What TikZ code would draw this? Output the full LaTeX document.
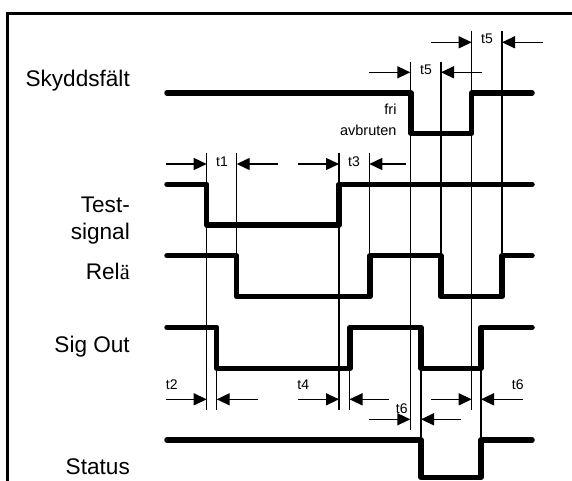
\documentclass[tikz,border=0pt]{standalone}
\usepackage{fontspec}
\setmainfont{Liberation Sans}
\newfontfamily\serifa{Liberation Serif}
\usetikzlibrary{arrows.meta}

\begin{document}
\begin{tikzpicture}[x=1pt,y=-1pt,every node/.style={inner sep=0pt}]
\tikzstyle{wave}=[line width=5.5pt,line cap=round,line join=round]
\tikzstyle{guide}=[line width=1.4pt]
\tikzstyle{dimarr}=[line width=1.4pt,-{Triangle[length=13pt,width=12pt]}]
\tikzstyle{sig}=[font=\fontsize{22.6}{26}\selectfont,anchor=base east]
\tikzstyle{tlbl}=[font=\fontsize{14}{16}\selectfont]
\tikzstyle{lvl}=[font=\fontsize{14.5}{16}\selectfont,anchor=east]
\useasboundingbox (0,0) rectangle (572,481);
% frame
\draw[line width=2.4pt] (7.3,481) -- (7.3,13.6) -- (572,13.6);
% signal names
\node[sig] (sky) at (130,87) {Skyddsfält};
\node[sig] (test) at (130,212) {Test-};
\node[sig] (testb) at (130,239) {signal};
\node[sig] (rela) at (130,279) {Rel{\serifa ä}};
\node[sig] (out) at (130,352) {Sig Out};
\node[sig] (stat) at (130,474) {Status};
% waveforms
\draw[wave] (167,93) -- (411,93) -- (411,133.3) -- (471.7,133.3) -- (471.7,93) -- (532,93);
\draw[wave] (167,184.3) -- (206.7,184.3) -- (206.7,225) -- (339,225) -- (339,184.3) -- (532,184.3);
\draw[wave] (167,255.7) -- (236.7,255.7) -- (236.7,296.7) -- (370,296.7) -- (370,255.7) -- (441,255.7) -- (441,296.7) -- (502,296.7) -- (502,255.7) -- (532,255.7);
\draw[wave] (167,327.3) -- (216.7,327.3) -- (216.7,368.3) -- (350,368.3) -- (350,327.3) -- (421,327.3) -- (421,368.3) -- (481,368.3) -- (481,327.3) -- (532,327.3);
\draw[wave] (167,440) -- (421,440) -- (421,477.3) -- (481,477.3) -- (481,440) -- (532,440);
\node[lvl] (fri) at (396.7,109.3) {fri};
\node[lvl] (avb) at (396.7,130.7) {avbruten};
% guide lines
\draw[guide] (206.7,153) -- (206.7,410);
\draw[guide] (236.7,153) -- (236.7,255.7);
\draw[guide] (339,153) -- (339,410);
\draw[guide] (369.3,153) -- (369.3,255.7);
\draw[guide] (216.7,368.3) -- (216.7,410);
\draw[guide] (349.5,368.3) -- (349.5,410);
\draw[guide] (410.3,61.7) -- (410.3,430);
\draw[guide] (441,61.7) -- (441,255.7);
\draw[guide] (471.7,30.7) -- (471.7,410);
\draw[guide] (502,30.7) -- (502,255.7);
\draw[guide] (421,368.3) -- (421,440);
\draw[guide] (481,368.3) -- (481,440);
% time arrows
\draw[dimarr] (166,164) -- (206.7,164);
\draw[dimarr] (278,164) -- (236.7,164);
\node[tlbl] (t1) at (222,161.7) {t1};
\draw[dimarr] (297.7,164) -- (339,164);
\draw[dimarr] (406,164) -- (369.3,164);
\node[tlbl] (t3) at (354,161.7) {t3};
\draw[dimarr] (369.3,72.3) -- (410.3,72.3);
\draw[dimarr] (481.7,72.3) -- (441,72.3);
\node[tlbl] (t5a) at (426,69.3) {t5};
\draw[dimarr] (431,42.3) -- (471.7,42.3);
\draw[dimarr] (542.7,42.3) -- (502,42.3);
\node[tlbl] (t5b) at (487,38.3) {t5};
\draw[dimarr] (166,399.3) -- (206.7,399.3);
\draw[dimarr] (258.3,399.3) -- (216.7,399.3);
\node[tlbl] (t2) at (171.7,385) {t2};
\draw[dimarr] (297.7,399.3) -- (339,399.3);
\draw[dimarr] (389,399.3) -- (349.5,399.3);
\node[tlbl] (t4) at (303.3,385) {t4};
\draw[dimarr] (369.3,419.3) -- (410.3,419.3);
\draw[dimarr] (461,419.3) -- (421,419.3);
\node[tlbl] (t6a) at (401.7,408.3) {t6};
\draw[dimarr] (431,399.3) -- (471.7,399.3);
\draw[dimarr] (522.7,399.3) -- (481,399.3);
\node[tlbl] (t6b) at (517.7,385) {t6};
\end{tikzpicture}
\end{document}
